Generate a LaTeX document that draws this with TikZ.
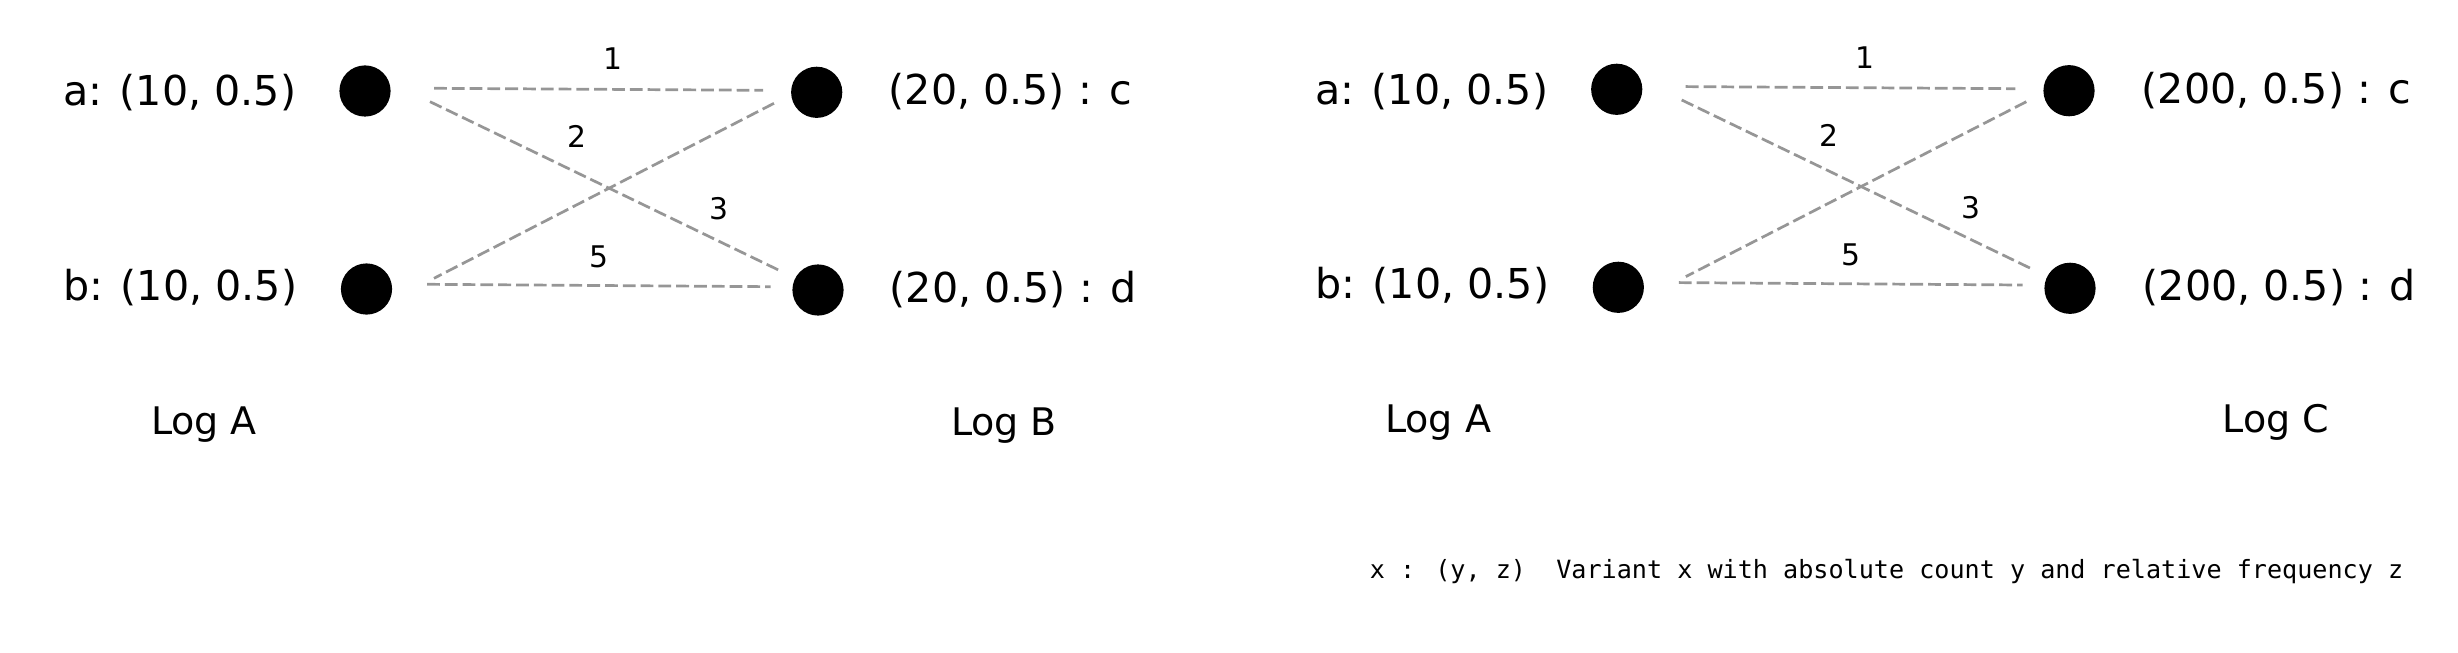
\documentclass[tikz,border=0pt]{standalone}
\usepackage{fontspec}
\setmainfont{DejaVu Sans}
\newfontfamily\legendfont{DejaVu Sans Mono}
\usetikzlibrary{positioning}
\definecolor{lnkgray}{RGB}{150,150,150}
\tikzset{
  dot/.style={circle, fill=black, inner sep=0pt, minimum size=12.8pt},
  varlbl/.style={font=\fontsize{10.3}{12}\selectfont, inner sep=0pt},
  cnt/.style={font=\fontsize{7.45}{9}\selectfont, inner sep=0pt},
  logname/.style={font=\fontsize{9.5}{11}\selectfont, inner sep=0pt},
  link/.style={draw=lnkgray, line width=0.68pt, dash pattern=on 3.2pt off 1.25pt},
  legend/.style={font=\legendfont\fontsize{6.28}{7}\selectfont, inner sep=0pt}
}

\begin{document}
\begin{tikzpicture}[x=0.25pt, y=-0.25pt]
  \useasboundingbox (0,0) rectangle (2458,652);
  % left: Log A vs Log B
  \node[dot] (a) at (365,91) {};
  \node[dot] (b) at (366.5,289) {};
  \node[dot] (c) at (816.7,92.3) {};
  \node[dot] (d) at (818,290) {};
  \node[varlbl, anchor=base east] (ta) at (297,106) {a: (10, 0.5)};
  \node[varlbl, anchor=base east] (tb) at (298,300) {b: (10, 0.5)};
  \node[varlbl, anchor=base west] (tc) at (888,105) {(20, 0.5) : c};
  \node[varlbl, anchor=base west] (td) at (889,302) {(20, 0.5) : d};
  \node[logname, anchor=base] (la) at (204,434) {Log A};
  \node[logname, anchor=base] (lb) at (1004,435) {Log B};
  % right: Log A vs Log C
  \node[dot] (a2) at (1616.7,89.3) {};
  \node[dot] (b2) at (1618.3,287.3) {};
  \node[dot] (c2) at (2069,90.7) {};
  \node[dot] (d2) at (2070,288.3) {};
  \node[varlbl, anchor=base east] (ta2) at (1549,104.5) {a: (10, 0.5)};
  \node[varlbl, anchor=base east] (tb2) at (1550,298.5) {b: (10, 0.5)};
  \node[varlbl, anchor=base west] (tc2) at (2141,103.5) {(200, 0.5) : c};
  \node[varlbl, anchor=base west] (td2) at (2142,300.5) {(200, 0.5) : d};
  \node[logname, anchor=base] (la2) at (1438,432) {Log A};
  \node[logname, anchor=base] (lc) at (2276,432) {Log C};
  % links
  \foreach \s/\sx/\sy/\t/\tx/\ty in {a/69/-2.7/c/-53.7/-2, a/65/10.7/d/-36/-18.3,
      c/-42.7/11/b/67.5/-10.7, b/60.5/-4.7/d/-47.3/-3.3,
      a2/69/-2.7/c2/-53.7/-2, a2/65/10.7/d2/-36/-18.3,
      c2/-42.7/11/b2/67.5/-10.7, b2/60.5/-4.7/d2/-47.3/-3.3}
    \draw[link] ([shift={(\sx,\sy)}]\s.center) -- ([shift={(\tx,\ty)}]\t.center);
  \foreach \n/\x/\y/\v in {n1/613/59/1, n2/577/136.5/2, n3/719/209/3, n5/599/256.7/5,
      m1/1865/57.5/1, m2/1829/135/2, m3/1971/207.5/3, m5/1851/255.2/5}
    \node[cnt] (\n) at (\x,\y) {\v};
  % legend
  \node[legend, anchor=base west] (key) at (1369,578) {x : (y, z)\ \ Variant x with absolute count y and relative frequency z};
\end{tikzpicture}
\end{document}
